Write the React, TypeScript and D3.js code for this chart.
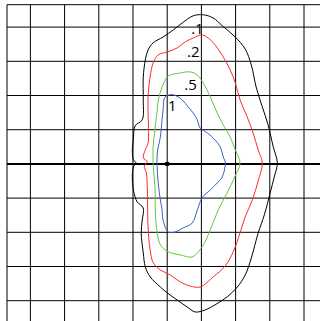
import * as React from 'react';
import * as d3 from 'd3';

// contour levels, drawn outermost first
const levels = ['.1', '.2', '.5', '1'];
const levelColors = ['#000000', '#ff2a2a', '#66c542', '#3c5fc0'];

// contour rings, [x, y] in grid units
const ring01: [number, number][] = [
  [1.05, 4.36], [1.34, 4.27], [1.61, 4.04], [1.99, 3.71], [2.28, 3.36], [2.46, 2.89],
  [2.6, 2.25], [2.78, 1.67], [2.95, 1.14], [3.1, 0.5], [3.22, 0.03], [3.13, -0.38],
  [3.01, -0.85], [2.84, -1.49], [2.66, -2.02], [2.46, -2.75], [2.28, -3.25], [2.05, -3.6],
  [1.75, -3.89], [1.4, -4.12], [1.11, -4.27], [0.82, -4.33], [0.58, -4.18], [0.29, -3.98],
  [0.0, -3.77], [-0.2, -3.6], [-0.5, -3.3], [-0.64, -3.01], [-0.7, -2.6], [-0.76, -2.02],
  [-0.73, -1.64], [-0.7, -1.29], [-0.88, -1.11], [-0.94, -0.96], [-0.99, -0.76],
  [-1.02, -0.38], [-0.99, -0.09], [-0.91, 0.03], [-0.99, 0.12], [-1.02, 0.41],
  [-0.99, 0.7], [-0.94, 1.11], [-0.73, 1.29], [-0.7, 1.87], [-0.7, 2.54], [-0.64, 3.04],
  [-0.56, 3.33], [-0.41, 3.54], [-0.12, 3.71], [0.18, 3.92], [0.44, 4.12], [0.76, 4.33],
];
const ring02: [number, number][] = [
  [1.02, 3.77], [1.26, 3.63], [1.55, 3.27], [1.84, 2.75], [1.99, 2.37], [2.13, 1.87],
  [2.34, 1.37], [2.51, 0.91], [2.66, 0.41], [2.78, 0.03], [2.66, -0.5], [2.49, -1.05],
  [2.28, -1.55], [2.13, -2.02], [1.93, -2.57], [1.7, -2.98], [1.35, -3.3], [0.96, -3.6],
  [0.67, -3.57], [0.38, -3.45], [0.09, -3.25], [-0.2, -3.1], [-0.41, -2.89], [-0.5, -2.51],
  [-0.56, -1.84], [-0.58, -0.76], [-0.61, -0.26], [-0.67, -0.06], [-0.58, 0.06],
  [-0.7, 0.18], [-0.64, 0.41], [-0.56, 0.61], [-0.56, 1.58], [-0.56, 1.96], [-0.5, 2.54],
  [-0.41, 2.95], [-0.26, 3.19], [0.0, 3.27], [0.29, 3.39], [0.53, 3.57], [0.76, 3.68],
];
const ring05: [number, number][] = [
  [0.67, 2.69], [0.88, 2.6], [1.05, 2.37], [1.26, 1.96], [1.46, 1.49], [1.64, 1.14],
  [1.84, 0.79], [1.99, 0.41], [2.13, 0.03], [1.96, -0.41], [1.75, -0.85], [1.49, -1.35],
  [1.26, -1.93], [1.02, -2.43], [0.73, -2.72], [0.38, -2.66], [0.03, -2.57], [-0.2, -2.37],
  [-0.29, -2.02], [-0.35, -1.35], [-0.35, -0.85], [-0.41, 0.03], [-0.41, 0.5], [-0.35, 1.08],
  [-0.29, 1.58], [-0.26, 1.87], [-0.15, 2.25], [0.0, 2.54], [0.09, 2.6], [0.38, 2.66],
];
const ring1: [number, number][] = [
  [0.18, 2.02], [0.44, 1.87], [0.61, 1.67], [0.76, 1.49], [0.88, 1.29], [0.96, 1.05],
  [1.17, 0.91], [1.4, 0.7], [1.55, 0.5], [1.64, 0.2], [1.7, 0.03], [1.61, -0.38],
  [1.49, -0.53], [1.26, -0.76], [1.02, -0.99], [0.88, -1.35], [0.73, -1.73], [0.47, -1.87],
  [0.23, -1.99], [0.03, -1.99], [-0.12, -1.64], [-0.15, -1.35], [-0.23, -0.85],
  [-0.29, -0.18], [-0.29, 0.32], [-0.2, 0.79], [-0.15, 1.29], [-0.12, 1.58], [-0.06, 1.96],
];
const rings = [ring01, ring02, ring05, ring1];

// where each level label sits (text start, baseline), grid units
const labelAt: [number, number][] = [[0.7, 3.8], [0.58, 3.14], [0.5, 2.16], [0.02, 1.55]];

const gridTicks = d3.range(-4, 5);

export default function App() {
  const x = d3.scaleLinear().domain([-4.684, 4.684]).range([7, 327.4]);
  const y = d3.scaleLinear().domain([-4.655, 4.655]).range([323.1, 4.7]);

  const line = d3.line<[number, number]>()
    .x(d => x(d[0]))
    .y(d => y(d[1]))
    .curve(d3.curveCatmullRomClosed.alpha(0.5));

  return (
    <svg width={320} height={321} style={{ position: 'absolute', left: 0, top: 0, background: '#fff' }}>
      {gridTicks.map(t => (
        <line key={'v' + t} x1={x(t)} x2={x(t)} y1={y(4.655)} y2={321}
          stroke='#000' strokeWidth={1} />
      ))}
      {gridTicks.map(t => (
        <line key={'h' + t} x1={x(-4.684)} x2={320} y1={y(t)} y2={y(t)}
          stroke='#000' strokeWidth={t === 0 ? 2 : 1} />
      ))}
      <line x1={x(-4.684)} x2={320} y1={y(4.655)} y2={y(4.655)} stroke='#000' />
      <line x1={x(-4.684)} x2={x(-4.684)} y1={y(4.655)} y2={321} stroke='#000' />
      <rect x={x(0) - 2} y={y(0) - 2} width={4} height={4} fill='#000' />
      {rings.map((r, i) => (
        <path key={levels[i]} d={line(r) || ''} fill='none' stroke={levelColors[i]} strokeWidth={1} />
      ))}
      {levels.map((l, i) => (
        <text key={'t' + l} x={x(labelAt[i][0])} y={y(labelAt[i][1])}
          fontFamily='Open Sans, sans-serif' fontSize={15} fill='#000'>{l}</text>
      ))}
    </svg>
  );
}
